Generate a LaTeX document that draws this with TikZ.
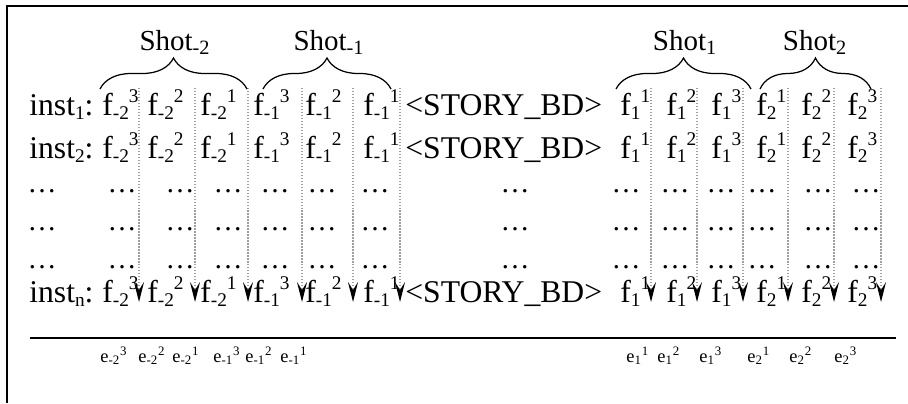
\documentclass[tikz,border=0pt]{standalone}
\usepackage{fontspec}
\setmainfont{Liberation Serif}
\usepackage{tikz}
\usetikzlibrary{positioning,arrows.meta,decorations.pathreplacing}
\definecolor{boardInk}{HTML}{000000}
\definecolor{boardGuide}{HTML}{9E9E9E}
% small Word-like indices: subscript first, superscript after it
\newcommand{\lowidx}[1]{\raisebox{-0.3ex}{\fontsize{11}{11}\selectfont#1}}
\newcommand{\highidx}[1]{\raisebox{0.85ex}{\fontsize{11}{11}\selectfont#1}}
\newcommand{\frm}[2]{f\lowidx{#1}\highidx{#2}}
\newcommand{\emb}[2]{e\textsubscript{#1}\textsuperscript{#2}}
\tikzset{
  boardframe/.style={draw=boardInk,line width=1.1pt},
  boardrule/.style={draw=boardInk,line width=0.8pt},
  rowtext/.style={anchor=base west,inner sep=0pt,text=boardInk,font=\fontsize{18}{20}\selectfont},
  gaptext/.style={anchor=base,inner sep=0pt,text=boardInk,font=\fontsize{16.5}{19}\selectfont},
  shotlabel/.style={anchor=base,inner sep=0pt,text=boardInk,font=\fontsize{16.5}{19}\selectfont},
  embtext/.style={anchor=base west,inner sep=0pt,text=boardInk,font=\fontsize{10.5}{12}\selectfont},
  shotbrace/.style={decorate,decoration={brace,amplitude=6.2mm},draw=boardInk,line width=0.7pt},
  guidearrow/.style={draw=boardGuide,densely dotted,line width=0.7pt,
    -{Stealth[color=boardInk,length=4mm,width=2mm,inset=1.6mm]}}
}

\begin{document}
\begin{tikzpicture}[x=0.2mm,y=-0.2mm]
  \useasboundingbox (0,0) rectangle (908,403);
  \draw[boardframe] (908,6) -- (7,6) -- (7,403);

  % instance rows
  \foreach \r/\y in {1/115,2/158,n/302} {
    \node[rowtext] (inst\r) at (29,\y) {inst\lowidx{\r}:};
    \foreach \s/\p/\x [count=\k] in {-2/3/102,-2/2/147,-2/1/200,-1/3/253,-1/2/305,-1/1/363}
      \node[rowtext] (f\r-\k) at (\x,\y) {\frm{\s}{\p}};
    \node[rowtext] (story\r) at (405,\y) {<STORY\_BD>};
    \foreach \s/\p/\x [count=\k from 7] in {1/1/620,1/2/666,1/3/711,2/1/756,2/2/801,2/3/847}
      \node[rowtext] (f\r-\k) at (\x,\y) {\frm{\s}{\p}};
  }

  % elided rows
  \foreach \y in {192,230,268}
    \foreach \x [count=\k] in {42,122,180,228,275,322,375,515,626,675,721,762,818,866}
      \node[gaptext] (gap\y-\k) at (\x,\y) {…};

  % one guide per frame column
  \foreach \x [count=\k] in {139,195,248,302,353,400,651,697,743,788,834,881} {
    \coordinate (guide\k) at (\x,88);
    \draw[guidearrow] (guide\k) -- (guide\k |- instn.base);
  }

  % shots
  \draw[shotbrace] (100,89) -- (247,89);
  \draw[shotbrace] (263,89) -- (391,89);
  \draw[shotbrace] (616,89) -- (751,89);
  \draw[shotbrace] (760,89) -- (871,89);
  \node[shotlabel] (shotA) at (175,50) {Shot\textsubscript{-2}};
  \node[shotlabel] (shotB) at (329,50) {Shot\textsubscript{-1}};
  \node[shotlabel] (shotC) at (685,50) {Shot\textsubscript{1}};
  \node[shotlabel] (shotD) at (815,50) {Shot\textsubscript{2}};

  % embeddings
  \draw[boardrule] (30,338) coordinate (ruleL) -- (896,338) coordinate (ruleR);
  \foreach \s/\p/\x [count=\k] in {-2/3/100,-2/2/138,-2/1/172,-1/3/213,-1/2/245,-1/1/280,
      1/1/626,1/2/657,1/3/699,2/1/747,2/2/789,2/3/834}
    \node[embtext] (e\k) at (\x,362) {\emb{\s}{\p}};
\end{tikzpicture}
\end{document}
